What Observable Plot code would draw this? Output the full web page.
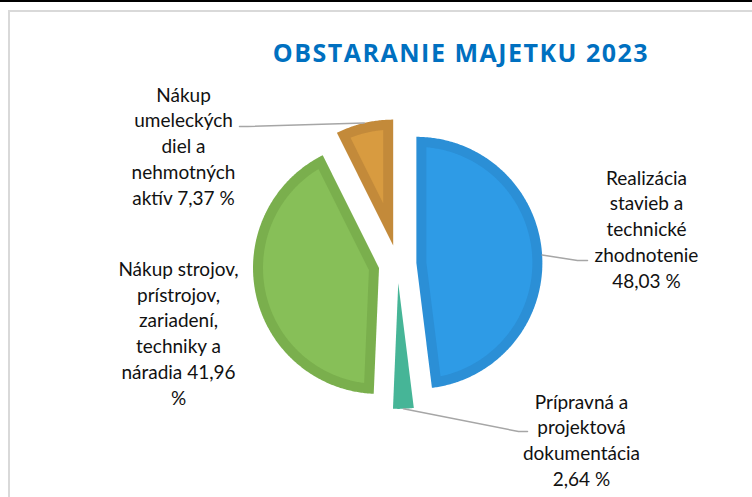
<!DOCTYPE html>
<html>
<head>
<meta charset="utf-8">
<script src="https://cdn.jsdelivr.net/npm/d3@7"></script>
<script src="https://cdn.jsdelivr.net/npm/@observablehq/plot@0.6"></script>
<style>
  html, body { margin: 0; padding: 0; background: #fff; }
  #wrap { position: relative; width: 752px; height: 497px; overflow: hidden; }
  #topline { position: absolute; left: 0; top: 0; width: 752px; height: 2px; background: #000; }
  #frame { position: absolute; left: 8px; top: 10px; width: 800px; height: 600px;
           border-top: 2px solid #d9d9d9; border-left: 2px solid #d9d9d9; }
  #chart { position: absolute; left: 0; top: 0; }
  #title { position: absolute; left: 161px; top: 40px; width: 600px; text-align: center;
           font-family: "Open Sans", sans-serif; font-weight: 700; font-size: 25px;
           letter-spacing: 1.5px; line-height: 24px; color: #0070C0; white-space: nowrap; }
</style>
</head>
<body>
<div id="wrap">
  <div id="topline"></div>
  <div id="frame"></div>
  <div id="chart"></div>
  <div id="title">OBSTARANIE MAJETKU 2023</div>
</div>
<script>
// ---- data ----
const categories = [
  "Realizácia stavieb a technické zhodnotenie",
  "Prípravná a projektová dokumentácia",
  "Nákup strojov, prístrojov, zariadení, techniky a náradia",
  "Nákup umeleckých diel a nehmotných aktív"
];
const shares = [48.03, 2.64, 41.96, 7.37];
const labelTemplates = [
  "Realizácia\nstavieb a\ntechnické\nzhodnotenie\n{v} %",
  "Prípravná a\nprojektová\ndokumentácia\n{v} %",
  "Nákup strojov,\nprístrojov,\nzariadení,\ntechniky a\nnáradia {v}\n%",
  "Nákup\numeleckých\ndiel a\nnehmotných\naktív {v} %"
];

// ---- styles ----
const fillColors   = ["#2E9BE6", "#46B597", "#87BF58", "#D89B40"];
const borderColors = ["#2B8FD6", "#46B597", "#7AAF4D", "#C38A3A"];

// ---- layout (px offsets from pie centre) ----
const W = 752, H = 497;
const R = 126, CX = 397, CY = 263.5;
const EXPLODE = 0.15;
const BAND = 10 / R;
const labelOffsets = [[249, -36], [184, 175], [-219, 68], [-214, -119]];
const leaderEnds = [
  [[180, -3.5], [190, -3.5]],
  [[121, 167.5], [130, 167.5]],
  null,
  [[-150, -137.5], [-158, -137.5]]
];

// ---- geometry ----
const total = d3.sum(shares);
let acc = 0;
const slices = shares.map((v, i) => {
  const a0 = acc / total * 2 * Math.PI; acc += v;
  const a1 = acc / total * 2 * Math.PI;
  const mid = (a0 + a1) / 2;
  return {i, v, a0, a1, mid, ox: EXPLODE * Math.sin(mid), oy: -EXPLODE * Math.cos(mid)};
});
const P = (s, a, r) => ({x: s.ox + r * Math.sin(a), y: s.oy - r * Math.cos(a)});
function arc(s, from, to, r) {
  const n = Math.max(2, Math.ceil((to - from) / 0.01));
  return d3.range(n + 1).map(k => P(s, from + (to - from) * k / n, r));
}
function wedge(s, inset) {
  const h = (s.a1 - s.a0) / 2;
  if (!inset) return [P(s, s.mid, 0), ...arc(s, s.a0, s.a1, 1)];
  const rr = 1 - BAND;
  const del = Math.asin(BAND / rr);
  if (h <= del) return [];
  const d = BAND / Math.sin(h);
  return [P(s, s.mid, d), ...arc(s, s.a0 + del, s.a1 - del, rr)];
}
const fmt = v => v.toFixed(2).replace(".", ",");
const labels = slices.map(s => ({
  x: labelOffsets[s.i][0] / R,
  y: labelOffsets[s.i][1] / R,
  text: labelTemplates[s.i].replace("{v}", fmt(s.v)),
  name: categories[s.i]
}));
const leaders = slices.filter(s => leaderEnds[s.i]).map(s => [
  P(s, s.mid, 1),
  ...leaderEnds[s.i].map(([dx, dy]) => ({x: dx / R, y: dy / R}))
]);

const marks = [];
for (const s of slices) {
  marks.push(Plot.line(wedge(s, false), {x: "x", y: "y", fill: borderColors[s.i], stroke: "none", curve: "linear-closed"}));
  const inner = wedge(s, true);
  if (inner.length) marks.push(Plot.line(inner, {x: "x", y: "y", fill: fillColors[s.i], stroke: "none", curve: "linear-closed"}));
}
for (const l of leaders) {
  marks.push(Plot.line(l, {x: "x", y: "y", stroke: "#A6A6A6", strokeWidth: 1.5}));
}
marks.push(Plot.text(labels, {
  x: "x", y: "y", text: "text", fontSize: 19, lineHeight: 25.8 / 19,
  fontFamily: "Lato", fill: "#111", textAnchor: "middle", lineAnchor: "middle"
}));

const chart = Plot.plot({
  width: W, height: H, margin: 0,
  style: {background: "transparent", overflow: "visible"},
  x: {domain: [-CX / R, (W - CX) / R], range: [0, W], axis: null},
  y: {domain: [-CY / R, (H - CY) / R], range: [0, H], axis: null},
  marks
});
document.getElementById("chart").appendChild(chart);
</script>
</body>
</html>
